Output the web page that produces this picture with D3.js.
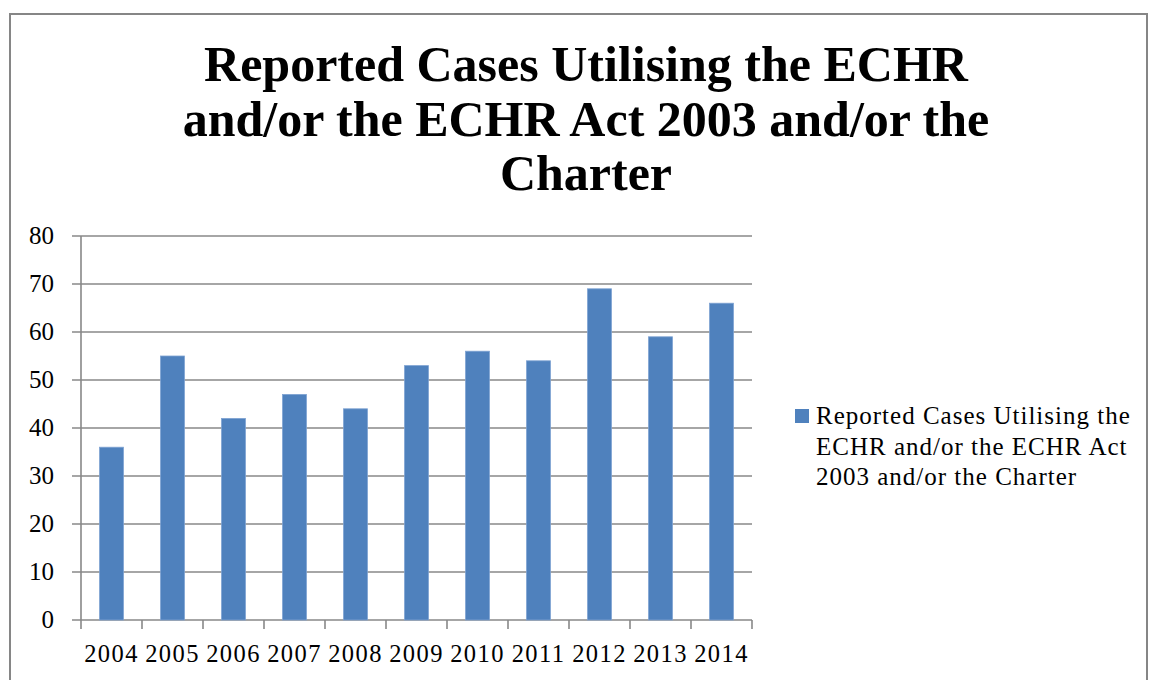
<!DOCTYPE html>
<html><head><meta charset="utf-8">
<script src="https://cdn.jsdelivr.net/npm/d3@7"></script>
<style>body{margin:0;background:#fff}svg{display:block}</style>
</head><body>
<script>
const years = ["2004","2005","2006","2007","2008","2009","2010","2011","2012","2013","2014"];
const cases = [36,55,42,47,44,53,56,54,69,59,66];
const yTicks = [0,10,20,30,40,50,60,70,80];
const titleLines = ["Reported Cases Utilising the ECHR","and/or the ECHR Act 2003 and/or the","Charter"];
const legendLines = ["Reported Cases Utilising the","ECHR and/or the ECHR Act","2003 and/or the Charter"];

const W=1151,H=680;
const svg=d3.select("body").append("svg").attr("width",W).attr("height",H);
const font="'Liberation Serif', 'DejaVu Serif', serif";
svg.append("rect").attr("x",10).attr("y",14).attr("width",1137).attr("height",700)
  .attr("fill","#fff").attr("stroke","#868686").attr("stroke-width",2);

const x=d3.scaleBand().domain(years).range([81,752]).paddingInner(0.607).paddingOuter(0.3035);
const y=d3.scaleLinear().domain([0,80]).range([620,236]);
const step=x.step();

// gridlines
svg.append("g").selectAll("line").data(yTicks).join("line")
  .attr("x1",72).attr("x2",752).attr("y1",d=>y(d)).attr("y2",d=>y(d))
  .attr("stroke","#888").attr("stroke-width",1.6);
// y axis line
svg.append("line").attr("x1",81).attr("x2",81).attr("y1",y(80)).attr("y2",y(0))
  .attr("stroke","#888").attr("stroke-width",1.6);
// x ticks at band boundaries
svg.append("g").selectAll("line").data(d3.range(years.length+1)).join("line")
  .attr("x1",i=>x.range()[0]+i*step).attr("x2",i=>x.range()[0]+i*step).attr("y1",y(0)).attr("y2",y(0)+9)
  .attr("stroke","#888").attr("stroke-width",1.6);

// bars
svg.append("g").selectAll("rect").data(years).join("rect")
  .attr("x",d=>x(d)).attr("width",x.bandwidth())
  .attr("y",(d,i)=>y(cases[i])).attr("height",(d,i)=>y(0)-y(cases[i]))
  .attr("fill","#4F81BD").attr("stroke","#7FA3D3").attr("stroke-width",0.8);

// y labels
svg.append("g").selectAll("text").data(yTicks).join("text")
  .attr("x",54).attr("y",d=>y(d)+8).attr("text-anchor","end")
  .attr("font-family",font).attr("font-size",25).attr("fill","#000").text(d=>d);
// x labels
svg.append("g").selectAll("text").data(years).join("text")
  .attr("x",d=>x(d)+x.bandwidth()/2).attr("y",662).attr("text-anchor","middle")
  .attr("font-family",font).attr("font-size",24.5).attr("letter-spacing",1.4).attr("fill","#000").text(d=>d);

// title
svg.append("g").selectAll("text").data(titleLines).join("text")
  .attr("x",586).attr("y",(d,i)=>81+i*54.5).attr("text-anchor","middle")
  .attr("font-family",font).attr("font-weight","bold").attr("font-size",50).attr("fill","#000").text(d=>d);

// legend
svg.append("rect").attr("x",795).attr("y",409).attr("width",14).attr("height",14).attr("fill","#4F81BD");
svg.append("g").selectAll("text").data(legendLines).join("text")
  .attr("x",816).attr("y",(d,i)=>424+i*30.5)
  .attr("font-family",font).attr("font-size",25).attr("letter-spacing",1).attr("fill","#000").text(d=>d);
</script>
</body></html>
